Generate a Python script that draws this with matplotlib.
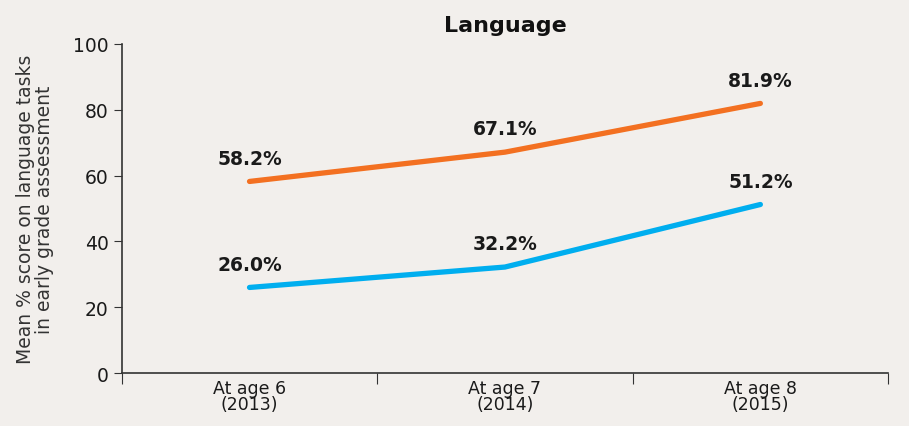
import matplotlib.pyplot as plt

# data
categories = ['At age 6\n(2013)', 'At age 7\n(2014)', 'At age 8\n(2015)']
orange_vals = [58.2, 67.1, 81.9]
blue_vals = [26.0, 32.2, 51.2]
yticks = [0, 20, 40, 60, 80, 100]

bg = '#f2efec'
fig = plt.figure(figsize=(9.09, 4.27), dpi=100, facecolor=bg)
ax = fig.add_axes([0.134, 0.124, 0.843, 0.771], facecolor=bg)

xs = [i + 0.5 for i in range(len(categories))]
ax.plot(xs, orange_vals, color='#f37021', lw=3.8, solid_capstyle='round')
ax.plot(xs, blue_vals, color='#00aeef', lw=3.8, solid_capstyle='round')

for x, v in zip(xs, orange_vals):
    ax.annotate('%.1f%%' % v, (x, v), xytext=(0, 10), textcoords='offset points',
                ha='center', va='bottom', fontsize=13.5, fontweight='bold', color='#1a1a1a')
for x, v in zip(xs, blue_vals):
    ax.annotate('%.1f%%' % v, (x, v), xytext=(0, 10), textcoords='offset points',
                ha='center', va='bottom', fontsize=13.5, fontweight='bold', color='#1a1a1a')

ax.set_xlim(0, 3)
ax.set_ylim(0, 100)
ax.set_yticks(yticks)
ax.tick_params(axis='y', labelsize=13.5, length=6, color='#333333', labelcolor='#1a1a1a')
ax.set_xticks([0, 1, 2, 3])
ax.set_xticklabels([])
ax.tick_params(axis='x', which='major', length=8, color='#333333')
ax.set_xticks(xs, minor=True)
ax.set_xticklabels(categories, minor=True, fontsize=12.5, linespacing=0.85,
                   family=['Liberation Sans Narrow', 'DejaVu Sans'], color='#1a1a1a')
ax.tick_params(axis='x', which='minor', length=0, pad=4)

for s in ['top', 'right']:
    ax.spines[s].set_visible(False)
for s in ['left', 'bottom']:
    ax.spines[s].set_color('#333333')
    ax.spines[s].set_linewidth(1.2)

ax.set_ylabel('Mean % score on language tasks\nin early grade assessment', fontsize=13.5,
              color='#333333', linespacing=0.95, labelpad=14)
ax.set_title('Language', fontsize=16, fontweight='bold', pad=9, color='#111111')

fig.savefig('out.png', dpi=100, facecolor=bg)
